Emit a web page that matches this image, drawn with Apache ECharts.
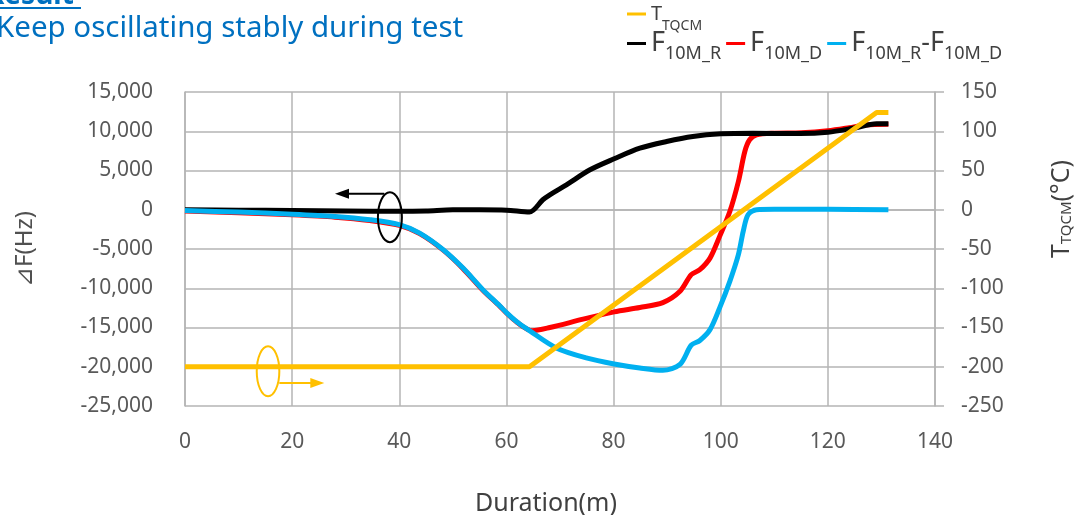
<!DOCTYPE html>
<html>
<head>
<meta charset="utf-8">
<script src="https://cdn.jsdelivr.net/npm/echarts@6/dist/echarts.min.js"></script>
<style>
  html, body { margin: 0; padding: 0; background: #fff; }
  #chart { width: 1087px; height: 515px; }
</style>
</head>
<body>
<div id="chart"></div>
<script>
// x = duration (min), y = frequency shift (Hz) / temperature (°C)
const blueT = [0, 10, 20, 28, 34.5, 40, 43.8, 48.2, 51.9, 55.6, 58.7, 60, 62, 64.3, 69.3, 74.9, 80.1, 84.9, 89.2, 92.4, 94.5, 96.1, 98, 99.8, 101.7, 103.3, 104.2, 105.1, 106.7, 110, 120, 131.3];
const blueV = [-100, -300, -560, -850, -1270, -1900, -2980, -5090, -7430, -10180, -12200, -13100, -14300, -15400, -17600, -18870, -19640, -20150, -20450, -19700, -17250, -16650, -15270, -12500, -9120, -5720, -2750, -630, 0, 50, 50, 0];

const redT = [0, 10, 20, 28, 34.5, 40, 43.8, 48.2, 51.9, 55.6, 58.7, 60, 62, 64.8, 68.1, 74.3, 80.1, 84.9, 89.2, 92.4, 94.5, 96.1, 98, 99.8, 101.7, 103.3, 104.5, 105.4, 106.7, 110, 115, 120, 124, 127, 131.3];
const redV = [-150, -380, -650, -950, -1380, -2000, -3050, -5150, -7500, -10250, -12250, -13150, -14350, -15400, -15000, -13940, -13010, -12460, -11830, -10390, -8270, -7640, -6160, -3390, -220, 3600, 7420, 8910, 9540, 9750, 9800, 10050, 10450, 10800, 10900];

const blackT = [0, 10, 20, 30, 40, 45, 50, 55, 60, 64.3, 66.8, 68.1, 71.2, 75.6, 80.1, 84.9, 89.9, 94.8, 100, 106, 114.8, 120, 124.7, 129.1, 131.3];
const blackV = [0, -50, -100, -150, -200, -150, 0, 0, -50, -300, 1270, 1900, 3180, 5090, 6490, 7840, 8690, 9330, 9670, 9750, 9700, 9870, 10380, 10940, 10940];

const tempT = [0, 64.3, 129.1, 131.3];
const tempV = [-200, -200, 124, 124];

const xTicks = { min: 0, max: 140, interval: 20 };
const leftTicks = { min: -25000, max: 15000, interval: 5000 };
const rightTicks = { min: -250, max: 150, interval: 50 };

const FONT = "'Noto Sans', 'Open Sans', sans-serif";
const GRID_COLOR = "#b4b4b4";
const LABEL_COLOR = "#595959";
const TEXT_DARK = "#404040";

const pairs = (ts, vs) => ts.map((t, i) => [t, vs[i]]);

// subscripts sit at the bottom of a tall line, main letter stays centred on the legend icon
const legendRichTop = {
  m: { fontSize: 20, color: TEXT_DARK, fontFamily: FONT, verticalAlign: "middle" },
  s: { fontSize: 14, color: TEXT_DARK, fontFamily: FONT, lineHeight: 38, verticalAlign: "bottom" },
};
const legendRichBottom = {
  m: { fontSize: 27, color: TEXT_DARK, fontFamily: FONT, verticalAlign: "middle" },
  s: { fontSize: 18, color: TEXT_DARK, fontFamily: FONT, lineHeight: 38, verticalAlign: "bottom" },
};
const legendLabel = {
  "T_TQCM": "{m|T}{s|TQCM}",
  "F_10M_R": "{m|F}{s|10M_R}",
  "F_10M_D": "{m|F}{s|10M_D}",
  "F_10M_R-F_10M_D": "{m|F}{s|10M_R}{m|-F}{s|10M_D}",
};

const chart = echarts.init(document.getElementById("chart"));

chart.setOption({
  animation: false,
  backgroundColor: "#fff",
  textStyle: { fontFamily: FONT },
  grid: { left: 185, right: 152, top: 92, bottom: 109, containLabel: false, outerBoundsMode: "none" },
  legend: [
    {
      data: ["T_TQCM"],
      left: 627, top: 4, padding: 0,
      icon: "rect", itemWidth: 19, itemHeight: 3,
      formatter: (n) => legendLabel[n],
      textStyle: { rich: legendRichTop },
    },
    {
      data: ["F_10M_R", "F_10M_D", "F_10M_R-F_10M_D"],
      left: 627, top: 30, padding: 0,
      icon: "rect", itemWidth: 19, itemHeight: 3, itemGap: 5,
      formatter: (n) => legendLabel[n],
      textStyle: { rich: legendRichBottom },
    },
  ],
  xAxis: {
    type: "value",
    min: xTicks.min, max: xTicks.max, interval: xTicks.interval,
    name: "Duration(m)",
    nameLocation: "middle",
    nameGap: 85,
    nameTextStyle: { fontSize: 25, color: TEXT_DARK, fontFamily: FONT, padding: [0, 28, 0, 0] },
    axisLine: { show: true, lineStyle: { color: GRID_COLOR, width: 1.5 } },
    axisTick: { show: false },
    axisLabel: { color: LABEL_COLOR, fontSize: 21, margin: 26, fontFamily: FONT },
    splitLine: { show: true, lineStyle: { color: GRID_COLOR, width: 1.5 } },
  },
  yAxis: [
    {
      type: "value",
      min: leftTicks.min, max: leftTicks.max, interval: leftTicks.interval,
      name: "\u22bfF(Hz)",
      nameLocation: "middle",
      nameRotate: 90,
      nameGap: 148,
      nameTextStyle: { fontSize: 24, color: "#505050", fontFamily: FONT },
      axisLine: { show: true, onZero: false, lineStyle: { color: GRID_COLOR, width: 1.5 } },
      axisTick: { show: false },
      axisLabel: {
        color: LABEL_COLOR, fontSize: 21, margin: 32, fontFamily: FONT,
        formatter: (v) => v.toLocaleString("en-US"),
      },
      splitLine: { show: true, lineStyle: { color: GRID_COLOR, width: 1.5 } },
    },
    {
      type: "value",
      position: "right",
      min: rightTicks.min, max: rightTicks.max, interval: rightTicks.interval,
      axisLine: { show: true, onZero: false, lineStyle: { color: GRID_COLOR, width: 1.5 } },
      axisTick: { show: true, inside: false, length: 9, lineStyle: { color: GRID_COLOR, width: 1.5 } },
      axisLabel: { color: LABEL_COLOR, fontSize: 21, margin: 26, fontFamily: FONT },
      splitLine: { show: false },
    },
  ],
  series: [
    {
      name: "F_10M_D", type: "line", yAxisIndex: 0, z: 2,
      data: pairs(redT, redV), showSymbol: false, smooth: 0.3,
      color: "#ff0000", lineStyle: { width: 5, color: "#ff0000" },
    },
    {
      name: "F_10M_R", type: "line", yAxisIndex: 0, z: 3,
      data: pairs(blackT, blackV), showSymbol: false, smooth: 0.3,
      color: "#000000", lineStyle: { width: 5, color: "#000000" },
    },
    {
      name: "F_10M_R-F_10M_D", type: "line", yAxisIndex: 0, z: 4,
      data: pairs(blueT, blueV), showSymbol: false, smooth: 0.3,
      color: "#00b0f0", lineStyle: { width: 5, color: "#00b0f0" },
    },
    {
      name: "T_TQCM", type: "line", yAxisIndex: 1, z: 5,
      data: pairs(tempT, tempV), showSymbol: false,
      color: "#ffc000", lineStyle: { width: 5, color: "#ffc000" },
    },
  ],
});

// annotation marks (ellipse + arrow) placed in data coordinates
function px(t, v) {
  return chart.convertToPixel({ xAxisIndex: 0, yAxisIndex: 0 }, [t, v]);
}
const blackRing = px(38.25, -940);
const blackArrowA = px(37.2, 2040);
const blackArrowB = px(28.0, 2040);
const yellowRing = px(15.5, -20570);
const yellowArrowA = px(17.6, -22060);
const yellowArrowB = px(26.0, -22060);

chart.setOption({
  graphic: [
    {
      type: "text", left: -14, top: -18,
      style: { text: "Result", fontSize: 28, fontWeight: "bold", fill: "#0070c0", fontFamily: FONT },
    },
    { type: "rect", shape: { x: 0, y: 7, width: 81, height: 2 }, style: { fill: "#0070c0" } },
    {
      type: "text", x: -4, y: 29,
      style: {
        text: "Keep oscillating stably during test", fontSize: 29.5, fill: "#0070c0",
        fontFamily: FONT, verticalAlign: "middle",
      },
    },
    {
      type: "text", x: 1062, y: 209, rotation: Math.PI / 2,
      style: {
        text: "{m|T}{s|TQCM}{m|(°C)}", align: "center", verticalAlign: "middle",
        rich: {
          m: { fontSize: 25, fill: TEXT_DARK, fontFamily: FONT, lineHeight: 25, verticalAlign: "bottom" },
          s: { fontSize: 15, fill: TEXT_DARK, fontFamily: FONT, lineHeight: 15, verticalAlign: "bottom" },
        },
      },
    },
    {
      type: "ellipse", z: 10,
      shape: { cx: blackRing[0], cy: blackRing[1], rx: 12, ry: 25 },
      style: { fill: "none", stroke: "#000", lineWidth: 2 },
    },
    {
      type: "line", z: 10,
      shape: { x1: blackArrowA[0], y1: blackArrowA[1], x2: blackArrowB[0] + 10, y2: blackArrowB[1] },
      style: { stroke: "#000", lineWidth: 2 },
    },
    {
      type: "polygon", z: 10,
      shape: { points: [[blackArrowB[0], blackArrowB[1]], [blackArrowB[0] + 14, blackArrowB[1] - 5], [blackArrowB[0] + 14, blackArrowB[1] + 5]] },
      style: { fill: "#000" },
    },
    {
      type: "ellipse", z: 10,
      shape: { cx: yellowRing[0], cy: yellowRing[1], rx: 11.3, ry: 25 },
      style: { fill: "none", stroke: "#ffc000", lineWidth: 2 },
    },
    {
      type: "line", z: 10,
      shape: { x1: yellowArrowA[0], y1: yellowArrowA[1], x2: yellowArrowB[0] - 10, y2: yellowArrowB[1] },
      style: { stroke: "#ffc000", lineWidth: 2 },
    },
    {
      type: "polygon", z: 10,
      shape: { points: [[yellowArrowB[0], yellowArrowB[1]], [yellowArrowB[0] - 14, yellowArrowB[1] - 5], [yellowArrowB[0] - 14, yellowArrowB[1] + 5]] },
      style: { fill: "#ffc000" },
    },
  ],
});
</script>
</body>
</html>
